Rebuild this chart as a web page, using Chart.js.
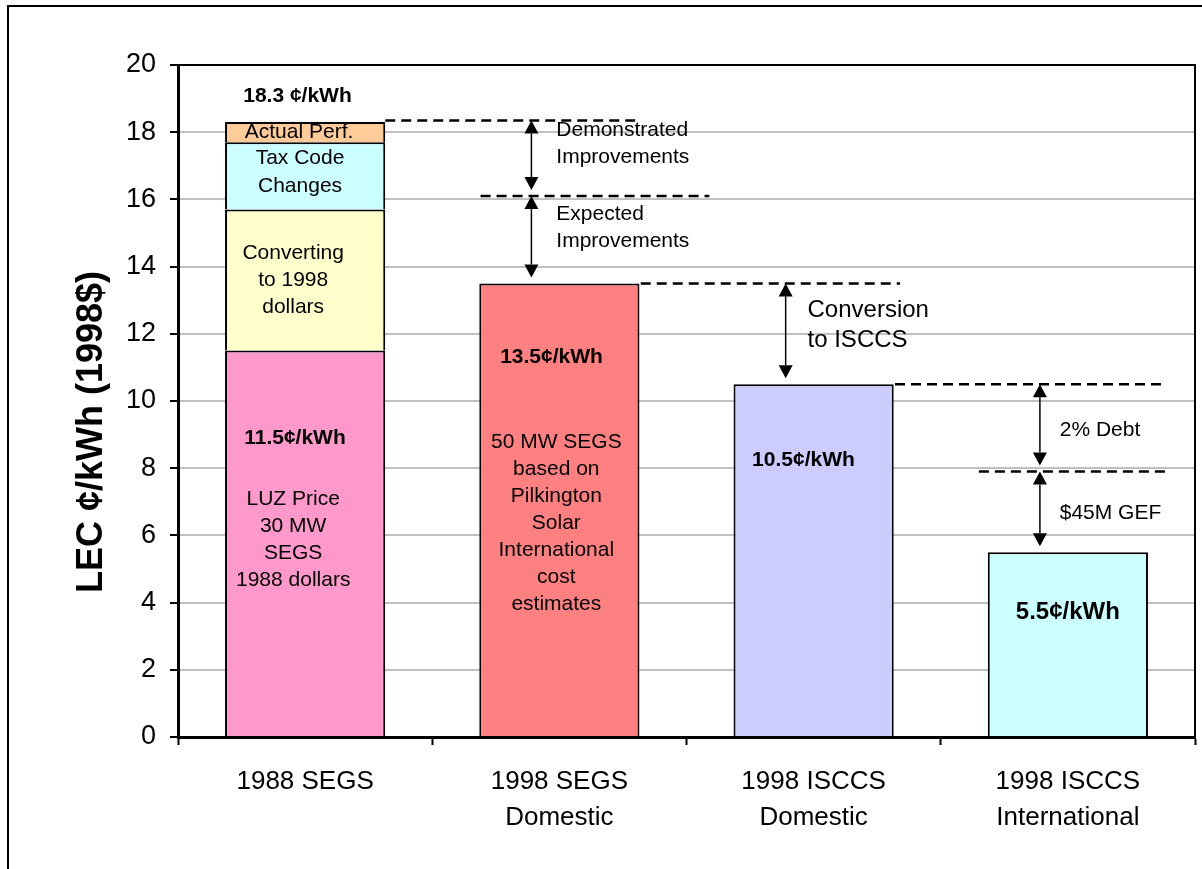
<!DOCTYPE html>
<html>
<head>
<meta charset="utf-8">
<script src="https://cdn.jsdelivr.net/npm/chart.js@4.4.1/dist/chart.umd.min.js"></script>
<style>
  html, body { margin: 0; padding: 0; background: #fff; }
  #wrap { width: 1202px; height: 869px; }
</style>
</head>
<body>
<div id="wrap"><canvas id="lecChart" width="1202" height="869"></canvas></div>
<script>
// 数据
const categories = [['1988 SEGS'], ['1998 SEGS', 'Domestic'], ['1998 ISCCS', 'Domestic'], ['1998 ISCCS', 'International']];
const baseCost = [11.5, 13.5, 10.5, 5.5];
const converting1998 = [4.2, null, null, null];
const taxCodeChanges = [2.0, null, null, null];
const actualPerf = [0.6, null, null, null];
const yTicks = [0, 2, 4, 6, 8, 10, 12, 14, 16, 18, 20];

const valueLabels = ['11.5¢/kWh', '13.5¢/kWh', '10.5¢/kWh', '5.5¢/kWh'];
const stackTotalLabel = '18.3 ¢/kWh';
const stackLabels = [['Converting', 'to 1998', 'dollars'], ['Tax Code', 'Changes'], ['Actual Perf.']];
const barNotes = [['LUZ Price', '30 MW', 'SEGS', '1988 dollars'], ['50 MW SEGS', 'based on', 'Pilkington', 'Solar', 'International', 'cost', 'estimates']];

// 改进步骤 (虚线水平)
const stepLevels = [18.35, 16.1, 13.5, 10.5, 7.9, 5.5];
const stepLabels = [['Demonstrated', 'Improvements'], ['Expected', 'Improvements'], ['Conversion', 'to ISCCS'], ['2% Debt'], ['$45M GEF']];

const FONT = 'Arial, "Liberation Sans", sans-serif';
const baseColors = ['#FF99CC', '#FF8080', '#CCCCFF', '#CCFFFF'];

function xAt(chart, pos) {
    const x = chart.scales.x;
    const step = x.getPixelForValue(1) - x.getPixelForValue(0);
    return x.getPixelForValue(0) + pos * step;
}

function drawLines(ctx, lines, x, y, gap, font, align) {
    ctx.font = font;
    ctx.textAlign = align || 'center';
    ctx.textBaseline = 'middle';
    ctx.fillStyle = '#000';
    lines.forEach((t, i) => ctx.fillText(t, x, y + i * gap));
}

function arrow(ctx, x, y1, y2) {
    const h = 13, w = 7;
    ctx.beginPath();
    ctx.moveTo(x, y1 + h);
    ctx.lineTo(x, y2 - h);
    ctx.stroke();
    ctx.beginPath();
    ctx.moveTo(x, y1); ctx.lineTo(x - w, y1 + h); ctx.lineTo(x + w, y1 + h); ctx.closePath();
    ctx.fill();
    ctx.beginPath();
    ctx.moveTo(x, y2); ctx.lineTo(x - w, y2 - h); ctx.lineTo(x + w, y2 - h); ctx.closePath();
    ctx.fill();
}

const annotate = {
    id: 'annotate',
    afterDraw(chart) {
        const { ctx, chartArea: a } = chart;
        const y = v => chart.scales.y.getPixelForValue(v);
        const x = p => xAt(chart, p);
        ctx.save();

        // 外框
        ctx.strokeStyle = '#000';
        ctx.lineWidth = 2;
        ctx.beginPath();
        ctx.moveTo(8, chart.height);
        ctx.lineTo(8, 6);
        ctx.lineTo(chart.width, 6);
        ctx.stroke();

        // 绘图区上边和右边
        ctx.beginPath();
        ctx.moveTo(a.left, a.top);
        ctx.lineTo(a.right, a.top);
        ctx.lineTo(a.right, a.bottom);
        ctx.stroke();

        // 虚线
        const dashSpans = [[0.315, 1.32], [0.69, 1.59], [1.32, 2.34], [2.32, 3.37], [2.65, 3.39]];
        ctx.setLineDash([10, 6]);
        ctx.lineWidth = 2.5;
        dashSpans.forEach((s, i) => {
            ctx.beginPath();
            ctx.moveTo(x(s[0]), y(stepLevels[i]));
            ctx.lineTo(x(s[1]), y(stepLevels[i]));
            ctx.stroke();
        });
        ctx.setLineDash([]);

        // 箭头
        const arrowX = [0.89, 0.89, 1.89, 2.89, 2.89];
        ctx.lineWidth = 1.5;
        ctx.fillStyle = '#000';
        arrowX.forEach((p, i) => {
            arrow(ctx, x(p), y(stepLevels[i]), y(stepLevels[i + 1]) - 6);
        });

        // 步骤说明
        drawLines(ctx, stepLabels[0], x(0.988), y(18.05), 27, '21px ' + FONT, 'left');
        drawLines(ctx, stepLabels[1], x(0.988), y(15.57), 27, '21px ' + FONT, 'left');
        drawLines(ctx, stepLabels[2], x(1.976), y(12.7), 30, '24px ' + FONT, 'left');
        drawLines(ctx, stepLabels[3], x(2.968), y(9.14), 27, '21px ' + FONT, 'left');
        drawLines(ctx, stepLabels[4], x(2.968), y(6.67), 27, '21px ' + FONT, 'left');

        // 柱内文字
        drawLines(ctx, [stackTotalLabel], x(-0.03), y(19.08), 27, 'bold 21px ' + FONT);
        drawLines(ctx, stackLabels[2], x(-0.024), y(18.0), 27, '21px ' + FONT);
        drawLines(ctx, stackLabels[1], x(-0.02), y(17.23), 28, '21px ' + FONT);
        drawLines(ctx, stackLabels[0], x(-0.047), y(14.4), 27, '21px ' + FONT);
        drawLines(ctx, [valueLabels[0]], x(-0.04), y(8.9), 27, 'bold 21px ' + FONT);
        drawLines(ctx, barNotes[0], x(-0.047), y(7.08), 27, '21px ' + FONT);
        drawLines(ctx, [valueLabels[1]], x(0.969), y(11.31), 27, 'bold 21px ' + FONT);
        drawLines(ctx, barNotes[1], x(0.988), y(8.78), 27, '21px ' + FONT);
        drawLines(ctx, [valueLabels[2]], x(1.96), y(8.24), 27, 'bold 21px ' + FONT);
        drawLines(ctx, [valueLabels[3]], x(3.0), y(3.72), 27, 'bold 24px ' + FONT);

        // 纵轴标题
        ctx.translate(92, 432);
        ctx.rotate(-Math.PI / 2);
        drawLines(ctx, ['LEC ¢/kWh (1998$)'], 0, 0, 0, 'bold 36px ' + FONT);
        ctx.restore();
    }
};

const barStyle = { borderColor: '#000', borderWidth: 2, borderSkipped: 'start', barPercentage: 0.63, categoryPercentage: 1 };

new Chart(document.getElementById('lecChart'), {
    type: 'bar',
    data: {
        labels: categories,
        datasets: [
            { label: 'base', data: baseCost, backgroundColor: baseColors, ...barStyle },
            { label: 'Converting to 1998 dollars', data: converting1998, backgroundColor: '#FFFFCC', ...barStyle },
            { label: 'Tax Code Changes', data: taxCodeChanges, backgroundColor: '#CCFFFF', ...barStyle },
            { label: 'Actual Perf.', data: actualPerf, backgroundColor: '#FFCC99', ...barStyle }
        ]
    },
    options: {
        responsive: false,
        animation: false,
        devicePixelRatio: 1,
        layout: { padding: { top: 65, right: 7, left: 0, bottom: 0 } },
        plugins: { legend: { display: false }, tooltip: { enabled: false } },
        scales: {
            x: {
                stacked: true,
                grid: { offset: true, drawOnChartArea: false, tickLength: 8, tickColor: '#000', tickWidth: 2 },
                border: { color: '#000', width: 3 },
                ticks: { color: '#000', padding: 19, font: { family: FONT, size: 26, lineHeight: 1.38 } },
                afterFit: s => { s.height = 132; }
            },
            y: {
                stacked: true,
                min: yTicks[0],
                max: yTicks[yTicks.length - 1],
                afterBuildTicks: s => { s.ticks = yTicks.map(v => ({ value: v })); },
                grid: { color: '#C0C0C0', lineWidth: 2, tickColor: '#000', tickLength: 8, tickWidth: 2 },
                border: { color: '#000', width: 3 },
                ticks: { color: '#000', padding: 14, font: { family: FONT, size: 27 } },
                afterFit: s => { s.width = 178; }
            }
        }
    },
    plugins: [annotate]
});
</script>
</body>
</html>
